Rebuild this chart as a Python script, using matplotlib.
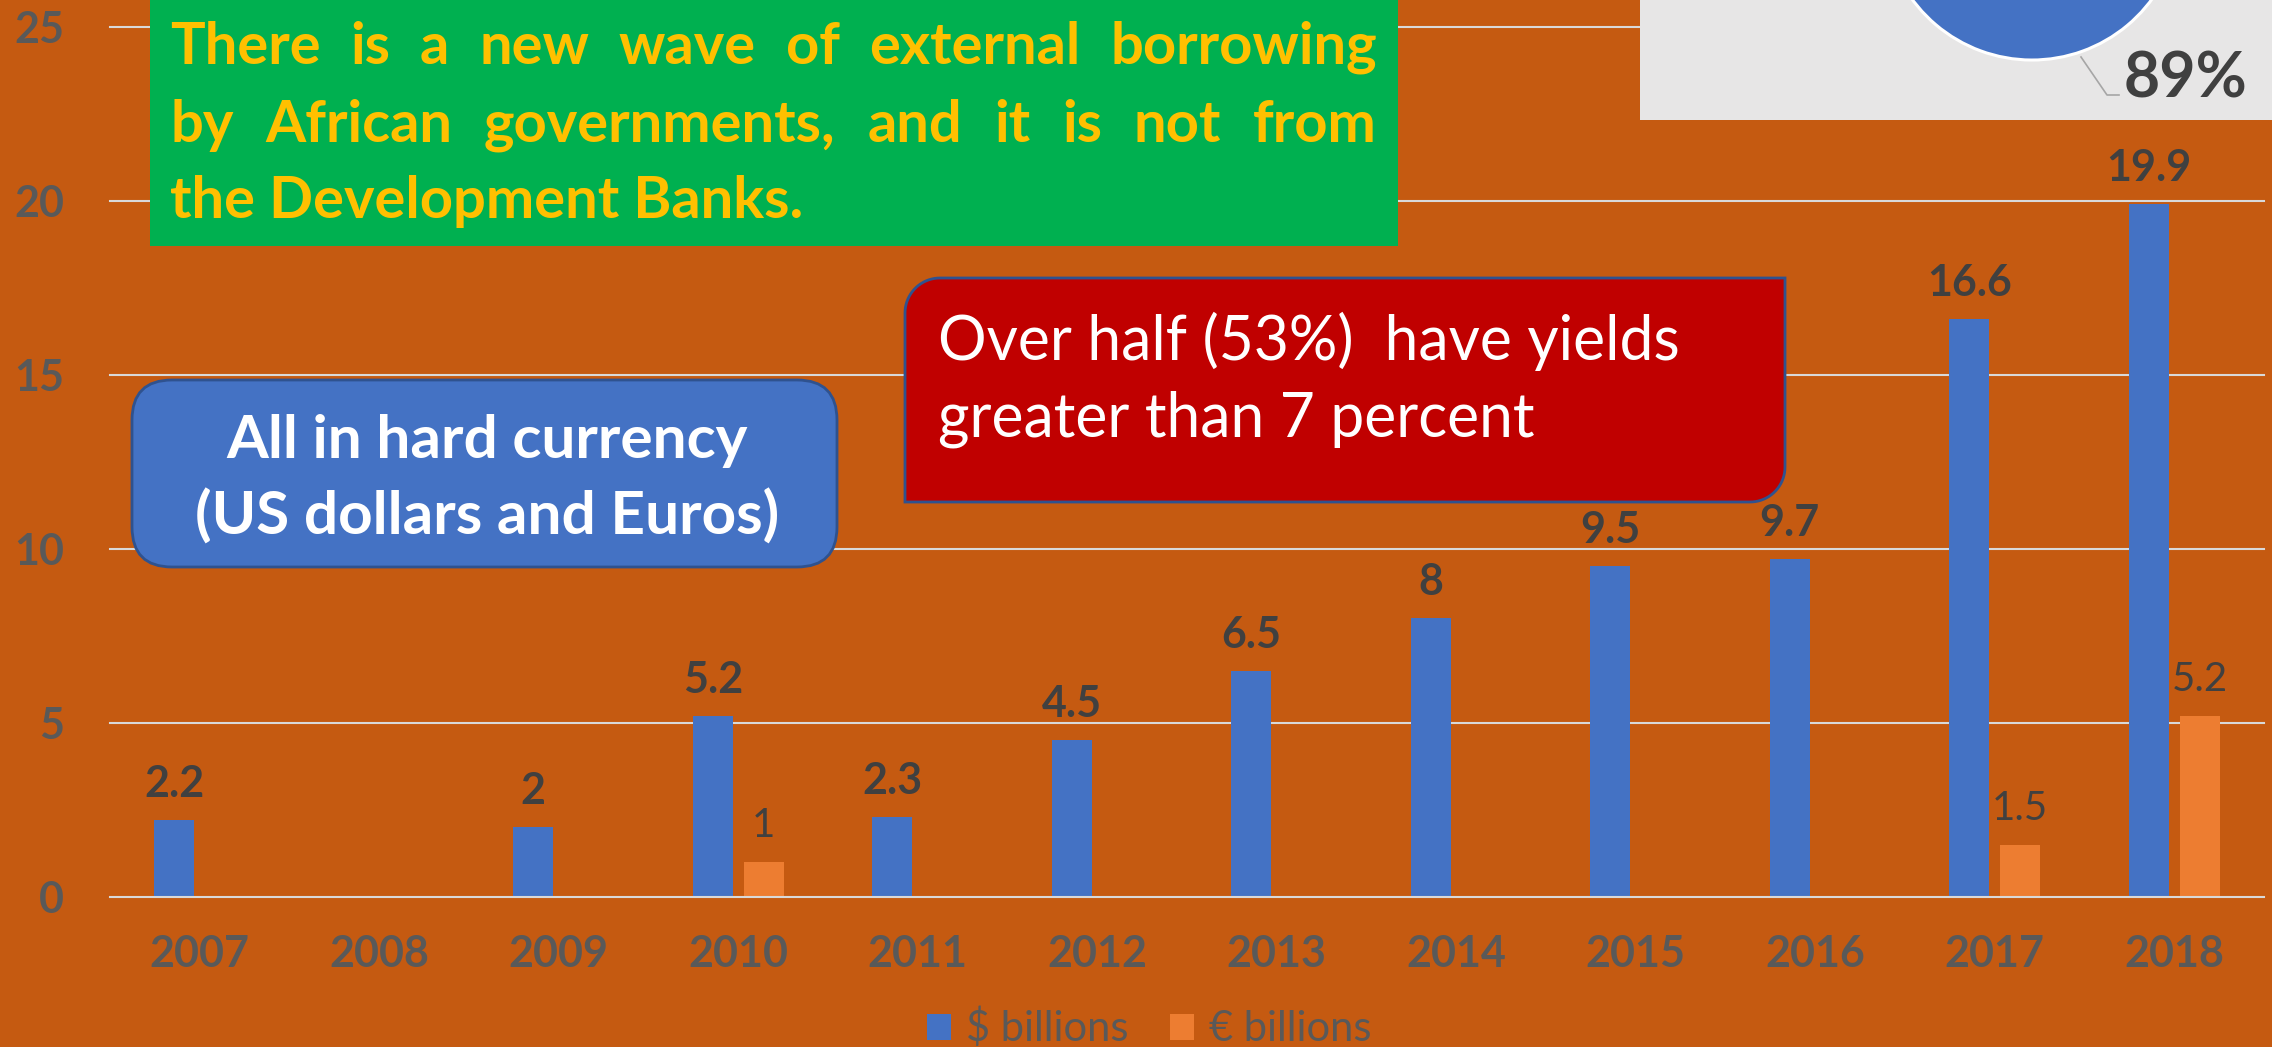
import matplotlib
matplotlib.use("Agg")
import matplotlib.pyplot as plt
import numpy as np
from matplotlib.transforms import Affine2D
from matplotlib.patches import Rectangle, FancyBboxPatch, Polygon
from matplotlib.lines import Line2D

# ---- data -------------------------------------------------------------
years = ["2007", "2008", "2009", "2010", "2011", "2012",
         "2013", "2014", "2015", "2016", "2017", "2018"]
usd_billions = [2.2, None, 2, 5.2, 2.3, 4.5, 6.5, 8, 9.5, 9.7, 16.6, 19.9]
eur_billions = [None, None, None, 1, None, None, None, None, None, None, 1.5, 5.2]
series_names = [r"\$ billions", "€ billions"]
y_ticks = [0, 5, 10, 15, 20, 25]
pie_shares = [89, 11]

headline_lines = ["There is a new wave of external borrowing",
                  "by African governments, and it is not from",
                  "the Development Banks."]
currency_lines = ["All in hard currency", "(US dollars and Euros)"]
yield_lines = ["Over half (53%)  have yields", "greater than 7 percent"]

# ---- style ------------------------------------------------------------
BG = "#C55A11"
BLUE = "#4472C4"
ORANGE = "#ED7D31"
GRID = "#D9D9D9"
TICK = "#595959"
LABEL = "#404040"
plt.rcParams["font.family"] = ["Lato", "DejaVu Sans"]

W, H = 2272, 1047
fig = plt.figure(figsize=(W / 100, H / 100), dpi=100, facecolor=BG)
renderer = fig.canvas.get_renderer()

# pixel coordinates measured from the top-left corner of the figure
px = Affine2D().scale(1 / W, -1 / H).translate(0, 1) + fig.transFigure

ax_left, ax_right, ax_top, ax_bottom = 110, 2264, 26.7, 896.7
ax = fig.add_axes([ax_left / W, 1 - ax_bottom / H,
                   (ax_right - ax_left) / W, (ax_bottom - ax_top) / H])
ax.set_facecolor(BG)
for s in ax.spines.values():
    s.set_visible(False)

x = np.arange(len(years))
bar_w, off = 0.222, 0.142

usd_idx = [i for i, v in enumerate(usd_billions) if v is not None]
eur_idx = [i for i, v in enumerate(eur_billions) if v is not None]
usd_vals = [usd_billions[i] for i in usd_idx]
eur_vals = [eur_billions[i] for i in eur_idx]

b_usd = ax.bar(x[usd_idx] - off, usd_vals, width=bar_w, color=BLUE,
               zorder=2, label=series_names[0])
b_eur = ax.bar(x[eur_idx] + off, eur_vals, width=bar_w, color=ORANGE,
               zorder=2, label=series_names[1])

for i, v in zip(usd_idx, usd_vals):
    ax.annotate(f"{v:g}", (x[i] - off, v), xytext=(0, 16.5),
                textcoords="offset points", ha="center", va="baseline",
                fontsize=31, fontweight="bold", color=LABEL)
for i, v in zip(eur_idx, eur_vals):
    ax.annotate(f"{v:g}", (x[i] + off, v), xytext=(0, 18),
                textcoords="offset points", ha="center", va="baseline",
                fontsize=29, color=LABEL)

for t in y_ticks:
    ax.axhline(t, color=GRID, lw=1.5, zorder=3 if t == 0 else 0.5,
               clip_on=False)

ax.set_xlim(-0.5, len(years) - 0.5)
ax.set_ylim(0, 25)
ax.set_xticks(x)
ax.set_xticklabels(years, fontsize=31, fontweight="bold", color=TICK)
ax.set_yticks(y_ticks)
ax.set_yticklabels([str(t) for t in y_ticks], fontsize=31,
                   fontweight="bold", color=TICK)
ax.tick_params(axis="x", length=0, pad=27)
ax.tick_params(axis="y", length=0, pad=33)

fig.legend(handles=[b_usd, b_eur], labels=series_names, ncol=2,
           loc="center", bbox_to_anchor=(1149 / W, 1 - 1028 / H),
           frameon=False, fontsize=30, labelcolor=TICK,
           handlelength=0.58, handleheight=0.58, handletextpad=0.36,
           columnspacing=1.0)


# ---- text helpers -----------------------------------------------------
def text_width(s, size, weight):
    t = fig.text(0, 0, s, fontsize=size, fontweight=weight)
    w = t.get_window_extent(renderer).width
    t.remove()
    return w


def fit_size(s, weight, target):
    return 40 * target / text_width(s, 40, weight)


# ---- headline box -----------------------------------------------------
fig.add_artist(Rectangle((150, 0), 1248, 246, transform=px,
                         fc="#00B050", ec="none", zorder=5))
head_size = fit_size(headline_lines[2], "bold", 634)
head_left, head_right = 170, 1377
head_base = [64, 142, 218]
for k, line in enumerate(headline_lines):
    if k < 2:
        words = line.split()
        widths = [text_width(w_, head_size, "bold") for w_ in words]
        gap = (head_right - head_left - sum(widths)) / (len(words) - 1)
        xpos = head_left
        for w_, wd in zip(words, widths):
            fig.text(xpos, head_base[k], w_, transform=px, fontsize=head_size,
                     fontweight="bold", color="#FFC000", ha="left",
                     va="baseline", zorder=7)
            xpos += wd + gap
    else:
        fig.text(head_left, head_base[k], line, transform=px,
                 fontsize=head_size, fontweight="bold", color="#FFC000",
                 ha="left", va="baseline", zorder=7)

# ---- hard-currency box ------------------------------------------------
fig.add_artist(FancyBboxPatch((132, 380), 705, 187, transform=px,
                              boxstyle="round,pad=0,rounding_size=40",
                              fc=BLUE, ec="#2F528F", lw=2, zorder=5))
cur_size = fit_size(currency_lines[0], "bold", 521)
for line, yb in zip(currency_lines, [458, 535]):
    fig.text(487, yb, line, transform=px, fontsize=cur_size,
             fontweight="bold", color="white", ha="center", va="baseline",
             zorder=7)

# ---- yields box (rounded top-left and bottom-right corners) -----------
x0, y0, x1, y1, r = 905, 278, 1785, 502, 35
t1 = np.linspace(np.pi, 1.5 * np.pi, 20)
t2 = np.linspace(0, 0.5 * np.pi, 20)
pts = ([(x0 + r + r * np.cos(t), y0 + r + r * np.sin(t)) for t in t1]
       + [(x1, y0)]
       + [(x1 - r + r * np.cos(t), y1 - r + r * np.sin(t)) for t in t2]
       + [(x0, y1)])
fig.add_artist(Polygon(pts, closed=True, transform=px, fc="#C00000",
                       ec="#2F528F", lw=2, zorder=5))
yld_size = fit_size(yield_lines[0], "normal", 742)
for line, yb in zip(yield_lines, [360, 437]):
    fig.text(938, yb, line, transform=px, fontsize=yld_size,
             color="white", ha="left", va="baseline", zorder=7)

# ---- pie inset --------------------------------------------------------
fig.add_artist(Rectangle((1640, 0), 632, 120, transform=px,
                         fc="#E7E6E6", ec="none", zorder=5))
cx, cy, R = 2032, -88.6, 151.6
pax = fig.add_axes([(cx - R) / W, 1 - (cy + R) / H, 2 * R / W, 2 * R / H],
                   zorder=6)
pax.pie(pie_shares, colors=[BLUE, ORANGE], startangle=90, counterclock=False,
        radius=1, wedgeprops=dict(edgecolor="white", linewidth=2.2))
pax.set_xlim(-1.02, 1.02)
pax.set_ylim(-1.02, 1.02)
pax.set_aspect("equal")
pax.axis("off")
fig.add_artist(Line2D([2081, 2107, 2119], [57, 95, 95], transform=px,
                      color="#A6A6A6", lw=1.2, zorder=7))
fig.text(2124, 98, f"{pie_shares[0]}%", transform=px, fontsize=45,
         fontweight="bold", color=LABEL, ha="left", va="baseline", zorder=7)

fig.savefig("out.png", dpi=100, facecolor=BG)
